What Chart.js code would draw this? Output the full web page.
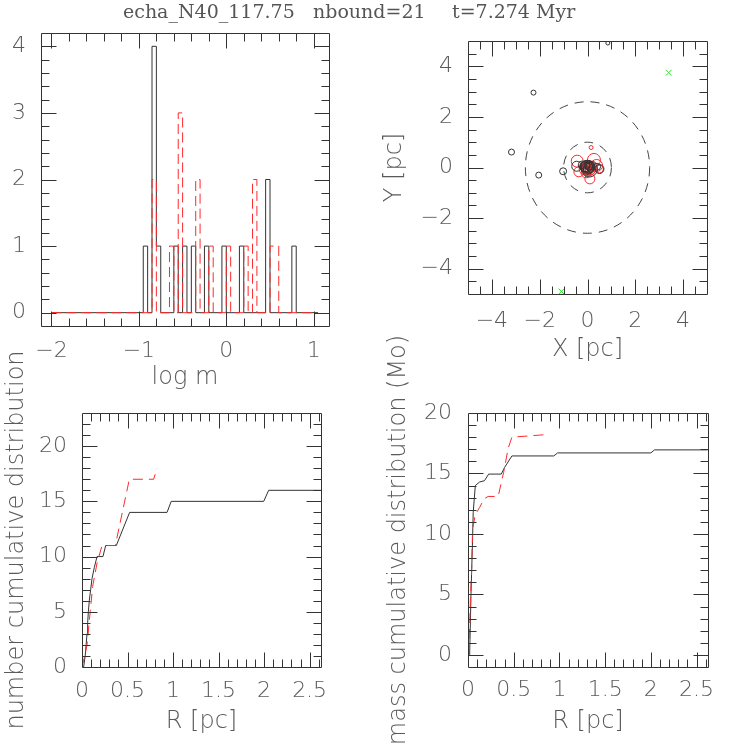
<!DOCTYPE html>
<html><head><meta charset="utf-8">
<script src="https://cdn.jsdelivr.net/npm/chart.js@4"></script>
<style>
html,body{margin:0;padding:0;background:#fff;}
#wrap{position:relative;width:747px;height:747px;overflow:hidden;}
canvas{position:absolute;left:0;top:0;}
</style></head><body>
<div id="wrap">
<canvas id="c1" width="747" height="747"></canvas>
<canvas id="c2" width="747" height="747"></canvas>
<canvas id="c3" width="747" height="747"></canvas>
<canvas id="c4" width="747" height="747"></canvas>
</div>
<script>
// ---------------- DATA ----------------
const TITLE = 'echa_N40_117.75  nbound=21  t=7.274 Myr';

// Panel 1: histogram of log m (bin width 0.05)
const HIST_BIN = 0.05;
const HIST_RANGE = [-2.0, 1.05];
const allBinLo   = [-0.95, -0.85, -0.80, -0.60, -0.50, -0.40, -0.25, -0.05, 0.15, 0.45, 0.75];
const allCounts  = [1, 4, 1, 1, 1, 1, 1, 1, 1, 2, 1];
const boundBinLo = [-0.85, -0.65, -0.55, -0.35, -0.20, 0.00, 0.20, 0.30, 0.50, 0.55];
const boundCounts= [2, 1, 3, 2, 1, 1, 1, 2, 1, 1];

// Panel 2: positions (pc) and symbol sizes
const allX    = [0.85, -2.26, -3.18, -2.04, -1.02, 0.00, 0.03, -0.04, 0.05, -0.06, 0.08, -0.02, 0.10, -0.12, 0.13, -0.22, 0.40, -0.45, 0.50];
const allY    = [4.92, 2.96, 0.61, -0.30, -0.15, 0.01, -0.03, 0.04, 0.06, -0.05, -0.06, 0.09, 0.05, 0.03, -0.09, 0.10, 0.03, 0.05, -0.06];
const allSize = [2, 2.5, 3, 3, 3.5, 7, 5, 6, 4, 3, 8, 3, 4, 5, 3, 4, 3.5, 5, 4.5];
const boundX    = [0.02, -0.05, 0.06, -0.03, 0.09, 0.00, -0.10, 0.12, -0.13, 0.20, -0.06, 0.38, -0.36, 0.27, -0.43, 0.10, 0.50, 0.15];
const boundY    = [0.03, 0.02, -0.05, -0.08, 0.06, 0.12, -0.06, -0.08, 0.07, 0.05, -0.21, 0.08, -0.17, 0.30, 0.25, -0.45, -0.06, 0.79];
const boundSize = [6, 5, 7, 4, 5, 4, 6, 5, 4, 5, 5, 6, 5, 6.5, 6, 5, 4, 2];
const escX = [3.40, -1.09];
const escY = [3.75, -4.90];
const ringRadii = [1.0, 2.6];

// Panel 3: number cumulative distribution
const numAllR   = [0.018, 0.035, 0.045, 0.055, 0.062, 0.07, 0.08, 0.095, 0.11, 0.135, 0.165, 0.23, 0.26, 0.377, 0.523, 0.934, 0.98, 1.996, 2.05, 2.63];
const numAllN   = [0, 1, 2, 3, 4, 5, 6, 7, 8, 9, 10, 10, 11, 11, 14, 14, 15, 15, 16, 16];
const numBoundR = [0, 0.03, 0.055, 0.09, 0.117, 0.165, 0.22, 0.366, 0.52, 0.787, 0.824];
const numBoundN = [0, 1, 2, 5, 7.3, 9.4, 11, 11, 17, 17, 18];

// Panel 4: mass cumulative distribution (Mo)
const massAllR   = [0.018, 0.033, 0.048, 0.057, 0.08, 0.128, 0.18, 0.226, 0.364, 0.40, 0.48, 0.938, 0.98, 2.0, 2.04, 2.62];
const massAllM   = [0, 5.1, 9, 11.8, 14, 14.3, 14.4, 14.95, 14.95, 15.5, 16.45, 16.45, 16.7, 16.7, 16.95, 16.95];
const massBoundR = [0, 0.01, 0.018, 0.026, 0.04, 0.05, 0.08, 0.128, 0.175, 0.22, 0.33, 0.39, 0.44, 0.48, 0.83];
const massBoundM = [0, 0.4, 2.3, 4.6, 7.1, 10.4, 11.6, 12.2, 12.9, 13.1, 13.1, 15.1, 17.1, 18.0, 18.2];

// ---------------- STYLE ----------------
const TXT = '#5a5a5a', LINE = '#333', RED = '#ff2a2a', GREEN = '#33dd33';
const TICK_FONT = {family: 'DejaVu Sans', size: 22, weight: 200};
const AXT_FONT = {family: 'DejaVu Sans', size: 24, weight: 200};

function isMult(v, s) { const q = v / s; return Math.abs(q - Math.round(q)) < 1e-6; }
function fmt(v) { return String(parseFloat(v.toFixed(3))).replace('-', '\u2212'); }
function xy(xs, ys) { return xs.map((x, i) => ({x: x, y: ys[i]})); }
function xyr(xs, ys, rs) { return xs.map((x, i) => ({x: x, y: ys[i], r: rs[i]})); }
function stepPoints(lo, counts) {
  const pts = [{x: HIST_RANGE[0], y: 0}];
  let end = HIST_RANGE[0];
  lo.forEach((b, i) => {
    if (b > end + 1e-9) pts.push({x: end, y: 0});
    pts.push({x: b, y: counts[i]});
    end = b + HIST_BIN;
  });
  pts.push({x: end, y: 0});
  pts.push({x: HIST_RANGE[1], y: 0});
  return pts;
}

function scaleCfg(o) {
  return {
    type: 'linear', position: o.pos, min: o.min, max: o.max,
    grid: {display: false, drawTicks: false}, border: {display: false},
    ticks: {stepSize: o.minor, includeBounds: false, autoSkip: false, maxRotation: 0, minRotation: 0,
            padding: o.tickPad, color: TXT, font: TICK_FONT,
            callback: (v) => isMult(v, o.major) ? fmt(v) : ''},
    title: o.title ? {display: true, text: o.title, color: TXT, font: AXT_FONT, padding: o.titlePad} : {display: false},
    afterFit: (s) => { if (s.isHorizontal()) s.height = o.size; else s.width = o.size; }
  };
}

const pgbox = {
  id: 'pgbox',
  afterDatasetsDraw(chart, args, opts) {
    if (!opts || !opts.xMinor) return;
    const ctx = chart.ctx, a = chart.chartArea;
    const xs = chart.scales.x, ys = chart.scales.y;
    ctx.save();
    if (opts.rings) {
      ctx.save();
      ctx.beginPath(); ctx.rect(a.left, a.top, a.right - a.left, a.bottom - a.top); ctx.clip();
      ctx.strokeStyle = '#444'; ctx.lineWidth = 1; ctx.setLineDash([9, 7]);
      const cx = xs.getPixelForValue(0), cy = ys.getPixelForValue(0);
      opts.rings.forEach(r => {
        ctx.beginPath();
        ctx.ellipse(cx, cy, Math.abs(xs.getPixelForValue(r) - cx), Math.abs(ys.getPixelForValue(r) - cy), 0, 0, Math.PI * 2);
        ctx.stroke();
      });
      ctx.restore();
    }
    const L = Math.round(a.left) + 0.5, R = Math.round(a.right) + 0.5, T = Math.round(a.top) + 0.5, B = Math.round(a.bottom) + 0.5;
    ctx.strokeStyle = LINE; ctx.lineWidth = 1; ctx.setLineDash([]);
    ctx.beginPath();
    ctx.rect(L, T, R - L, B - T);
    xs.ticks.forEach(t => {
      const v = t.value; if (!isMult(v, opts.xMinor)) return;
      const len = isMult(v, opts.xMajor) ? 15 : 8;
      const p = Math.round(xs.getPixelForValue(v)) + 0.5;
      if (p <= L || p >= R) return;
      ctx.moveTo(p, B); ctx.lineTo(p, B - len);
      ctx.moveTo(p, T); ctx.lineTo(p, T + len);
    });
    ys.ticks.forEach(t => {
      const v = t.value; if (!isMult(v, opts.yMinor)) return;
      const len = isMult(v, opts.yMajor) ? 15 : 8;
      const p = Math.round(ys.getPixelForValue(v)) + 0.5;
      if (p <= T || p >= B) return;
      ctx.moveTo(L, p); ctx.lineTo(L + len, p);
      ctx.moveTo(R, p); ctx.lineTo(R - len, p);
    });
    ctx.stroke();
    if (opts.title) {
      ctx.fillStyle = '#555';
      ctx.font = '19px "DejaVu Serif"';
      ctx.textBaseline = 'alphabetic'; ctx.textAlign = 'left';
      opts.title.text.split(/\s{2,}/).forEach((s, i) => ctx.fillText(s, opts.title.xs[i], opts.title.y));
    }
    ctx.restore();
  }
};
Chart.register(pgbox);

function base(extra) {
  return Object.assign({
    responsive: false, animation: false, devicePixelRatio: 1, events: [],
  }, extra);
}
const noLegend = {legend: {display: false}, tooltip: {enabled: false}};

// Panel 1
new Chart(document.getElementById('c1'), {
  type: 'scatter',
  data: {datasets: [
    {label: 'bound', data: stepPoints(boundBinLo, boundCounts), showLine: true, stepped: 'before', borderColor: RED, borderDash: [10, 5], borderWidth: 1, pointRadius: 0, order: 0},
    {label: 'all', data: stepPoints(allBinLo, allCounts), showLine: true, stepped: 'before', borderColor: LINE, borderWidth: 1, pointRadius: 0, order: 1}
  ]},
  options: base({
    layout: {padding: {left: 0, top: 33, right: 418, bottom: 351}},
    scales: {
      x: scaleCfg({pos: 'bottom', min: -2.12, max: 1.175, minor: 0.2, major: 1, size: 70, tickPad: 12, title: 'log m', titlePad: {top: 0, bottom: 3.6}}),
      y: scaleCfg({pos: 'left', min: -0.2, max: 4.2, minor: 0.2, major: 1, size: 41, tickPad: 15})
    },
    plugins: Object.assign({pgbox: {xMinor: 0.2, xMajor: 1, yMinor: 0.2, yMajor: 1,
      title: {text: TITLE, xs: [123, 313, 452], y: 18}}}, noLegend)
  })
});

// Panel 2
new Chart(document.getElementById('c2'), {
  type: 'bubble',
  data: {datasets: [
    {label: 'bound', data: xyr(boundX, boundY, boundSize), backgroundColor: 'rgba(0,0,0,0)', borderColor: RED, borderWidth: 1, order: 1},
    {label: 'all', data: xyr(allX, allY, allSize), backgroundColor: 'rgba(0,0,0,0)', borderColor: LINE, borderWidth: 1, order: 0},
    {label: 'escapers', type: 'scatter', data: xy(escX, escY), pointStyle: 'crossRot', pointRadius: 4, borderColor: GREEN, borderWidth: 1, order: 0, clip: false}
  ]},
  options: base({
    layout: {padding: {left: 380, top: 41, right: 40, bottom: 378}},
    scales: {
      x: scaleCfg({pos: 'bottom', min: -5, max: 5, minor: 0.5, major: 2, size: 75, tickPad: 14, title: 'X [pc]', titlePad: {top: 0, bottom: 4.6}}),
      y: scaleCfg({pos: 'left', min: -5, max: 5, minor: 0.5, major: 2, size: 88, tickPad: 15, title: 'Y [pc]', titlePad: {top: 0.6, bottom: 0}})
    },
    plugins: Object.assign({pgbox: {xMinor: 0.5, xMajor: 2, yMinor: 0.5, yMajor: 2, rings: ringRadii}}, noLegend)
  })
});

// Panel 3
new Chart(document.getElementById('c3'), {
  type: 'scatter',
  data: {datasets: [
    {label: 'bound', data: xy(numBoundR, numBoundN), showLine: true, borderColor: RED, borderDash: [10, 6], borderWidth: 1, pointRadius: 0, order: 0},
    {label: 'all', data: xy(numAllR, numAllN), showLine: true, borderColor: LINE, borderWidth: 1, pointRadius: 0, order: 1}
  ]},
  options: base({
    layout: {padding: {left: 0, top: 413, right: 426, bottom: 5}},
    scales: {
      x: scaleCfg({pos: 'bottom', min: 0, max: 2.625, minor: 0.1, major: 0.5, size: 75, tickPad: 11, title: 'R [pc]', titlePad: {top: 0, bottom: 5.6}}),
      y: scaleCfg({pos: 'left', min: 0, max: 23, minor: 1, major: 5, size: 82, tickPad: 15, title: 'number cumulative distribution', titlePad: {top: 2.6, bottom: 0}})
    },
    plugins: Object.assign({pgbox: {xMinor: 0.1, xMajor: 0.5, yMinor: 1, yMajor: 5}}, noLegend)
  })
});

// Panel 4
new Chart(document.getElementById('c4'), {
  type: 'scatter',
  data: {datasets: [
    {label: 'bound', data: xy(massBoundR, massBoundM), showLine: true, borderColor: RED, borderDash: [10, 6], borderWidth: 1, pointRadius: 0, order: 0},
    {label: 'all', data: xy(massAllR, massAllM), showLine: true, borderColor: LINE, borderWidth: 1, pointRadius: 0, order: 1}
  ]},
  options: base({
    layout: {padding: {left: 380, top: 413, right: 39, bottom: 5}},
    scales: {
      x: scaleCfg({pos: 'bottom', min: 0, max: 2.625, minor: 0.1, major: 0.5, size: 75, tickPad: 10, title: 'R [pc]', titlePad: {top: 0, bottom: 5.6}}),
      y: scaleCfg({pos: 'left', min: -1, max: 20, minor: 1, major: 5, size: 88, tickPad: 16, title: 'mass cumulative distribution (Mo)', titlePad: {top: 4.6, bottom: 0}})
    },
    plugins: Object.assign({pgbox: {xMinor: 0.1, xMajor: 0.5, yMinor: 1, yMajor: 5}}, noLegend)
  })
});
</script>
</body></html>
